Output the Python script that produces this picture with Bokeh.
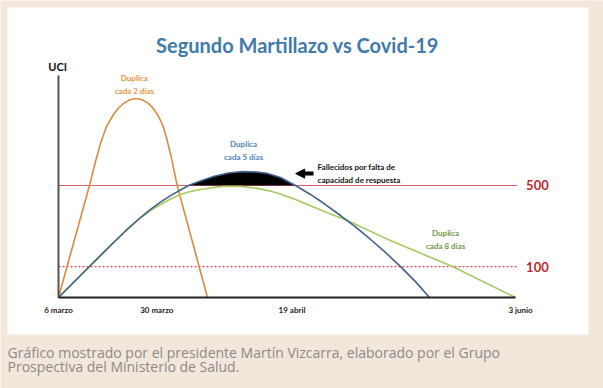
import numpy as np
from bokeh.plotting import figure
from bokeh.models import Range1d, BoxAnnotation, Arrow, NormalHead
from bokeh.core.properties import value
from bokeh.embed import file_html
from bokeh.resources import INLINE

# ---- data (schematic chart: x = position along the time axis 0..100, y = UCI as drawn) ----
tick_pos = [0, 21.5, 51.1, 101.1]
tick_labels = ["6 marzo", "30 marzo", "19 abril", "3 junio"]

capacity_level = 500       # "500" line
low_level = 138            # "100" dotted line (as drawn)
level_labels = ["500", "100"]

orange_x = [0, 6.78, 8.10, 9.19, 10.50, 12.04, 13.13, 14.22, 15.54, 16.85, 18.16, 19.47, 20.57, 21.66, 22.76, 23.63, 24.73, 25.97, 32.60]
orange_y = [0, 500, 607, 687, 763, 817, 846, 866, 882, 888, 884, 870, 848, 817, 772, 714, 621, 500, 0]

blue_x = [0, 6.56, 11.38, 14.66, 17.94, 20.13, 22.32, 24.51, 26.70, 28.45, 31.07, 33.92, 37.20, 40.26,
          43.33, 45.73, 48.58, 51.86, 55.14, 58.42, 61.71, 64.99, 68.27, 71.55, 74.84, 78.12, 81.18]
blue_y = [0, 134, 232, 297, 357, 393, 426, 455, 480, 500, 520, 540, 556, 562,
          560, 554, 536, 500, 460, 415, 366, 315, 259, 201, 138, 71, 0]

green_x = [0, 6.56, 11.38, 14.66, 17.94, 20.13, 22.32, 24.51, 26.70, 28.45, 31.07, 33.92, 36.11, 39.82,
           43.54, 46.39, 48.58, 51.86, 55.80, 59.52, 63.24, 72.65, 86.21, 100]
green_y = [0, 134, 232, 297, 355, 388, 415, 440, 460, 471, 482, 491, 496, 496,
           487, 475, 462, 437, 404, 373, 344, 254, 138, 0]

curve_labels = ["Duplica\ncada 2 días", "Duplica\ncada 5 días", "Duplica\ncada 8 días"]

BEIGE = "#f3e7db"
p = figure(width=603, height=388, x_range=Range1d(-12.69, 119.26), y_range=Range1d(-406.2, 1325.8),
           x_axis_location=None, y_axis_location=None, toolbar_location=None,
           output_backend="svg", min_border=0, outline_line_color=None,
           background_fill_color=BEIGE, border_fill_color=BEIGE)
p.xgrid.visible = False
p.ygrid.visible = False

# white panel
p.add_layout(BoxAnnotation(left=-11.16, right=115.97, top=1294.6, bottom=-165.2,
                           fill_color="white", fill_alpha=1.0, line_color=None, level="underlay"))

FONT = value("Lato")

# threshold lines
p.line(x=[0, 100.4], y=[capacity_level, capacity_level], line_color="#dc5f66", line_width=1)
p.line(x=[0, 100.4], y=[low_level, low_level], line_color="#cc4a5c", line_width=1.3, line_dash="2 2")

# black fill: deaths beyond capacity
bx = np.array(blue_x); by = np.array(blue_y)
m = by >= capacity_level
p.varea(x=bx[m], y1=np.full(m.sum(), capacity_level), y2=by[m], fill_color="black")

# curves
p.line(orange_x, orange_y, line_color="#dc8a3e", line_width=1.6)
p.line(green_x, green_y, line_color="#a5c95e", line_width=1.6)
p.line(blue_x, blue_y, line_color="#40628c", line_width=1.6)

# axes
p.line(x=[0, 0], y=[0, 991], line_color="#555555", line_width=2)
p.line(x=[0, 100], y=[0, 0], line_color="#222222", line_width=2)
p.text(x=tick_pos, y=[-58] * len(tick_pos), text=tick_labels, text_font=FONT, text_font_style="bold",
       text_font_size="8px", text_color="#222222", text_align="center", text_baseline="middle")
p.text(x=[-0.2], y=[1031], text=["UCI"], text_font=FONT, text_font_style="bold",
       text_font_size="11px", text_color="#111111", text_align="center", text_baseline="middle")

# level labels
p.text(x=[104.8, 104.8], y=[capacity_level, low_level], text=level_labels, text_font=FONT,
       text_font_style="bold", text_font_size="13px", text_color="#c0282d",
       text_align="center", text_baseline="middle")

# curve labels
for lx, ly, t, c in [(16.6, 951, curve_labels[0], "#e6953f"),
                     (40.5, 654, curve_labels[1], "#4b86b8"),
                     (84.7, 259, curve_labels[2], "#6e9a3f")]:
    p.text(x=[lx], y=[ly], text=[t], text_font=FONT, text_font_style="bold", text_font_size="8px",
           text_color=c, text_align="center", text_baseline="middle", text_line_height=1.3)

# arrow + annotation
p.add_layout(Arrow(end=NormalHead(size=9, fill_color="black", line_color="black"),
                   x_start=55.8, y_start=553, x_end=51.9, y_end=553,
                   line_color="black", line_width=4))
p.text(x=[56.7], y=[553], text=["Fallecidos por falta de\ncapacidad de respuesta"], text_font=FONT,
       text_font_style="bold", text_font_size="8px", text_color="#111111",
       text_align="left", text_baseline="middle", text_line_height=1.35)

# title
p.text(x=[52.3], y=[1125], text=["Segundo Martillazo vs Covid-19"], text_font=FONT,
       text_font_style="bold", text_font_size="20px", text_color="#3f7aaa",
       text_align="center", text_baseline="middle")

# caption
p.text(x=[-11.16, -11.16], y=[-245.5, -308],
       text=["Gráfico mostrado por el presidente Martín Vizcarra, elaborado por el Grupo",
             "Prospectiva del Ministerio de Salud."],
       text_font=value("Open Sans"), text_font_size="14px", text_color="#8a8a8a",
       text_align="left", text_baseline="middle")

open("out.html", "w").write(file_html(p, INLINE))
